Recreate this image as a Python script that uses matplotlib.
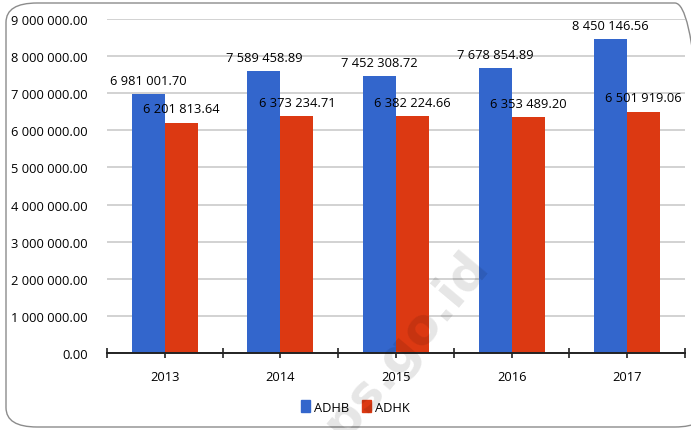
import numpy as np
import matplotlib
matplotlib.use("Agg")
import matplotlib.pyplot as plt
from matplotlib.patches import FancyBboxPatch, Patch

years = ["2013", "2014", "2015", "2016", "2017"]
adhb = [6981001.70, 7589458.89, 7452308.72, 7678854.89, 8450146.56]
adhk = [6201813.64, 6373234.71, 6382224.66, 6353489.20, 6501919.06]
y_ticks = [0, 1e6, 2e6, 3e6, 4e6, 5e6, 6e6, 7e6, 8e6, 9e6]

BLUE = "#3366cc"
RED = "#dc3912"
FONT = "Open Sans"
plt.rcParams["font.family"] = [FONT, "DejaVu Sans"]


def fmt(v):
    return f"{v:,.2f}".replace(",", " ")


fig = plt.figure(figsize=(6.91, 4.31), dpi=100)

# rounded frame around the chart
fig.patches.append(FancyBboxPatch(
    (6 / 691, 3 / 431), 700 / 691, 424 / 431,
    boxstyle="round,pad=0,rounding_size=0.045", transform=fig.transFigure,
    facecolor="none", edgecolor="#8c8c8c", linewidth=1.0, zorder=0))

ax = fig.add_axes([107 / 691, 1 - 354 / 431, 578 / 691, 334 / 431])
x = np.arange(len(years))
w = 0.285

ax.bar(x - w / 2, adhb, w, color=BLUE, zorder=3)
ax.bar(x + w / 2, adhk, w, color=RED, zorder=3)

for xi, v in zip(x, adhb):
    ax.annotate(fmt(v), (xi - w / 2, v), xytext=(0, 10), textcoords="offset points",
                ha="center", va="center", fontsize=9.3, zorder=5)
for xi, v in zip(x, adhk):
    ax.annotate(fmt(v), (xi + w / 2, v), xytext=(0, 10), textcoords="offset points",
                ha="center", va="center", fontsize=9.3, zorder=5)

ax.set_xlim(-0.5, len(years) - 0.5)
ax.set_ylim(0, 9e6)
ax.set_yticks(y_ticks)
ax.set_yticklabels([fmt(v) for v in y_ticks], fontsize=9.3)
ax.tick_params(axis="y", length=0, pad=14)
ax.yaxis.grid(True, color="#cfcfcf", linewidth=1.3, zorder=1)

ax.set_xticks(x)
ax.set_xticklabels(years, fontsize=9.3)
ax.set_xticks(np.arange(-0.5, len(years)), minor=True)
ax.tick_params(axis="x", which="both", direction="inout", length=7, width=1.2,
               color="#222222", pad=9)

for s in ["left", "right", "top"]:
    ax.spines[s].set_visible(False)
ax.spines["bottom"].set_color("#222222")
ax.spines["bottom"].set_linewidth(1.4)
ax.spines["bottom"].set_zorder(4)

fig.legend(handles=[Patch(color=BLUE, label="ADHB"), Patch(color=RED, label="ADHK")],
           loc="center", bbox_to_anchor=(355 / 691, 1 - 408 / 431), ncol=2,
           frameon=False, fontsize=9.3, handlelength=0.7, handleheight=1.0,
           handletextpad=0.3, columnspacing=1.0)

# faint watermark, runs off the bottom edge like in the source image
fig.text(395 / 691, 1 - 358 / 431, "bps.go.id", rotation=50, fontsize=36,
         fontweight="bold", color="black", alpha=0.10, ha="center", va="center",
         family="DejaVu Sans", zorder=10)

fig.savefig("out.png", dpi=100)
